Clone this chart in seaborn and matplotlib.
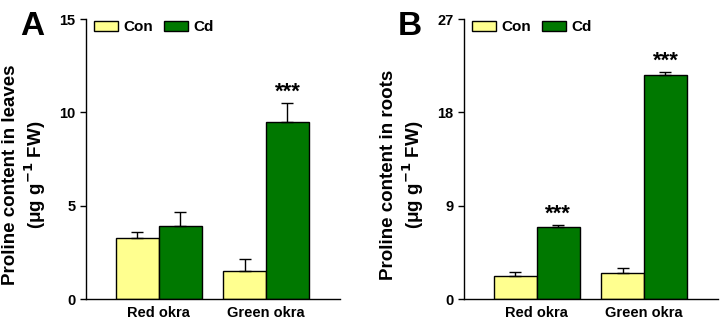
import matplotlib
matplotlib.use("Agg")
import matplotlib.pyplot as plt
import numpy as np
import pandas as pd
import seaborn as sns

# %% Data
cultivars = ["Red okra", "Green okra"]
treatments = ["Con", "Cd"]

leaf_con = [3.28, 1.52]
leaf_cd = [3.91, 9.50]
leaf_con_err = [0.33, 0.64]
leaf_cd_err = [0.75, 1.02]

root_con = [2.22, 2.51]
root_cd = [6.97, 21.63]
root_con_err = [0.41, 0.45]
root_cd_err = [0.20, 0.26]

leaf_stars = ["", "***"]
root_stars = ["***", "***"]

COLOURS = {"Con": "#FFFF8F", "Cd": "#007800"}

sns.set_style("ticks")
plt.rcParams["font.family"] = ["Liberation Sans", "DejaVu Sans"]
plt.rcParams["font.weight"] = "bold"
plt.rcParams["axes.linewidth"] = 1.0
plt.rcParams["text.color"] = "black"
plt.rcParams["axes.labelcolor"] = "black"
plt.rcParams["xtick.color"] = "black"
plt.rcParams["ytick.color"] = "black"
plt.rcParams["axes.edgecolor"] = "black"


def make_df(con, cd):
    return pd.DataFrame(
        {
            "cultivar": cultivars * 2,
            "treatment": ["Con"] * 2 + ["Cd"] * 2,
            "value": list(con) + list(cd),
        }
    )


def draw_panel(ax, df, con_err, cd_err, stars, ymax, yticks, ylabel, letter):
    sns.barplot(
        data=df,
        x="cultivar",
        y="value",
        hue="treatment",
        hue_order=treatments,
        order=cultivars,
        palette=COLOURS,
        saturation=1,
        edgecolor="black",
        linewidth=1.0,
        width=0.8,
        errorbar=None,
        ax=ax,
    )
    errs = {"Con": con_err, "Cd": cd_err}
    for container, treat in zip(ax.containers, treatments):
        for bar, e in zip(container.patches, errs[treat]):
            x = bar.get_x() + bar.get_width() / 2
            h = bar.get_height()
            ax.errorbar(
                x, h, yerr=[[0], [e]], color="black", capsize=4,
                elinewidth=1.0, capthick=1.0, zorder=1,
            )
    # significance marks over the Cd bars
    for bar, e, s in zip(ax.containers[1].patches, cd_err, stars):
        if s:
            x = bar.get_x() + bar.get_width() / 2
            ax.annotate(
                s, (x, bar.get_height() + e), xytext=(0, 0),
                textcoords="offset points", ha="center", va="bottom",
                fontsize=16, fontweight="bold",
            )

    ax.set_xlim(-0.68, 1.69)
    ax.set_ylim(0, ymax)
    ax.set_yticks(yticks)
    ax.set_xlabel("")
    ax.set_ylabel(ylabel, fontsize=13.5, fontweight="bold", linespacing=1.15)
    ax.yaxis.set_label_coords(-0.15, 0.443)
    ax.tick_params(axis="x", length=0, labelsize=10.5, pad=5)
    ax.tick_params(axis="y", length=4, width=1.0, labelsize=10.5)
    for lab in ax.get_xticklabels() + ax.get_yticklabels():
        lab.set_fontweight("bold")
    sns.despine(ax=ax)

    ax.legend(
        loc="upper left", bbox_to_anchor=(0.03, 0.995), ncol=2, frameon=False,
        handlelength=1.6, handleheight=0.6, handletextpad=0.35,
        columnspacing=0.7, borderaxespad=0, borderpad=0,
        prop={"size": 11, "weight": "bold"},
    )
    ax.text(-0.26, 0.975, letter, transform=ax.transAxes, fontsize=24,
            fontweight="bold", ha="left", va="center")


fig = plt.figure(figsize=(7.2, 3.18), dpi=100)
ax_a = fig.add_axes([0.1194, 0.0597, 0.3528, 0.8805])
ax_b = fig.add_axes([0.6444, 0.0597, 0.3528, 0.8805])

draw_panel(ax_a, make_df(leaf_con, leaf_cd), leaf_con_err, leaf_cd_err,
           leaf_stars, 15, [0, 5, 10, 15],
           "Proline content in leaves\n(\u03bcg g$^{\\mathbf{-1}}$ FW)", "A")
draw_panel(ax_b, make_df(root_con, root_cd), root_con_err, root_cd_err,
           root_stars, 27, [0, 9, 18, 27],
           "Proline content in roots\n(\u03bcg g$^{\\mathbf{-1}}$ FW)", "B")

fig.savefig("out.png", dpi=100)
